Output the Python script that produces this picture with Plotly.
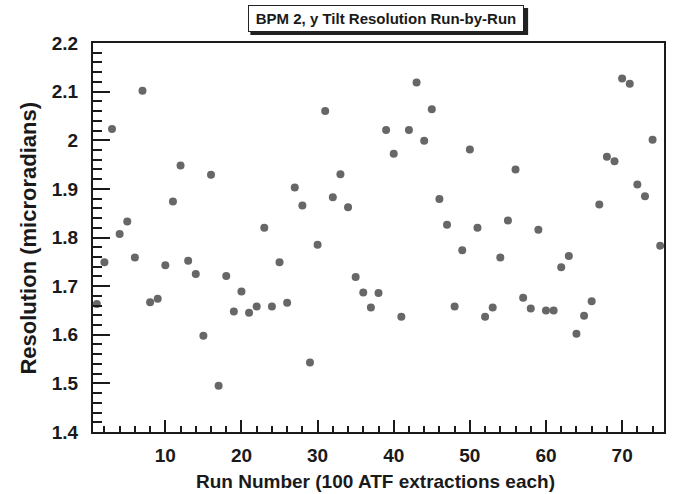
import plotly.graph_objects as go

runs = list(range(1, 76))
resolution = [
    1.663, 1.749, 2.023, 1.807, 1.833, 1.759, 2.102, 1.667, 1.674, 1.743,
    1.874, 1.948, 1.752, 1.725, 1.598, 1.929, 1.495, 1.721, 1.648, 1.689,
    1.645, 1.658, 1.820, 1.658, 1.749, 1.666, 1.903, 1.866, 1.543, 1.785,
    2.060, 1.883, 1.930, 1.862, 1.719, 1.687, 1.656, 1.686, 2.021, 1.972,
    1.637, 2.021, 2.119, 1.999, 2.064, 1.879, 1.826, 1.658, 1.774, 1.981,
    1.820, 1.637, 1.656, 1.759, 1.835, 1.940, 1.676, 1.654, 1.816, 1.650,
    1.650, 1.739, 1.762, 1.602, 1.639, 1.669, 1.868, 1.966, 1.957, 2.127,
    2.116, 1.909, 1.885, 2.001, 1.783,
]

title_text = "BPM 2, y Tilt Resolution Run-by-Run"
x_title = "Run Number (100 ATF extractions each)"
y_title = "Resolution (microradians)"

FONT = "Liberation Sans, Arial, Helvetica, sans-serif"
W, H = 683, 494
L, R, T, B = 92.5, 19, 43, 62
PW, PH = W - L - R, H - T - B


def px_x(px):
    return (px - L) / PW


def px_y(py):
    return (H - B - py) / PH


fig = go.Figure()
fig.add_trace(go.Scatter(
    x=runs, y=resolution, mode="markers",
    marker=dict(color="#676767", size=8, line=dict(width=0)),
    hoverinfo="x+y", showlegend=False,
))

axis_common = dict(
    showline=True, linewidth=2, linecolor="#1a1a1a", mirror=True,
    showgrid=False, zeroline=False, ticks="inside", tickcolor="#1a1a1a",
    tickwidth=1.5,
    tickfont=dict(family=FONT, size=19, color="#1a1a1a", weight="bold"),
)

fig.update_layout(
    width=W, height=H,
    margin=dict(l=L, r=R, t=T, b=B, pad=0),
    paper_bgcolor="white", plot_bgcolor="white",
    xaxis=dict(
        range=[0.5, 75.5], tick0=0, dtick=10, ticklen=12,
        ticklabelstandoff=5,
        minor=dict(ticks="inside", dtick=2, tick0=0, ticklen=6,
                   tickcolor="#1a1a1a", tickwidth=1.5),
        **axis_common,
    ),
    yaxis=dict(
        range=[1.4, 2.2], tick0=1.4, dtick=0.1, ticklen=17,
        ticklabelstandoff=9,
        minor=dict(ticks="inside", dtick=0.02, tick0=1.4, ticklen=9,
                   tickcolor="#1a1a1a", tickwidth=1.5),
        **axis_common,
    ),
)

# title box shadow
fig.add_shape(
    type="rect", xref="paper", yref="paper",
    x0=px_x(250), x1=px_x(528), y0=px_y(35), y1=px_y(8),
    fillcolor="#222222", line=dict(width=0), layer="above",
)

fig.add_annotation(
    text=title_text, xref="paper", yref="paper",
    x=px_x(386), y=px_y(18.5), xanchor="center", yanchor="middle",
    showarrow=False, width=272, height=23,
    bgcolor="white", bordercolor="#222222", borderwidth=1, borderpad=1,
    font=dict(family=FONT, size=15, color="#1a1a1a", weight="bold"),
)

fig.add_annotation(
    text=x_title, xref="paper", yref="paper",
    x=px_x(375), y=px_y(481), xanchor="center", yanchor="middle",
    showarrow=False,
    font=dict(family=FONT, size=19, color="#1a1a1a", weight="bold"),
)

fig.add_annotation(
    text=y_title, xref="paper", yref="paper",
    x=px_x(28), y=px_y(238), xanchor="center", yanchor="middle",
    showarrow=False, textangle=-90,
    font=dict(family=FONT, size=22, color="#1a1a1a", weight="bold"),
)

fig.write_html("out.html")
